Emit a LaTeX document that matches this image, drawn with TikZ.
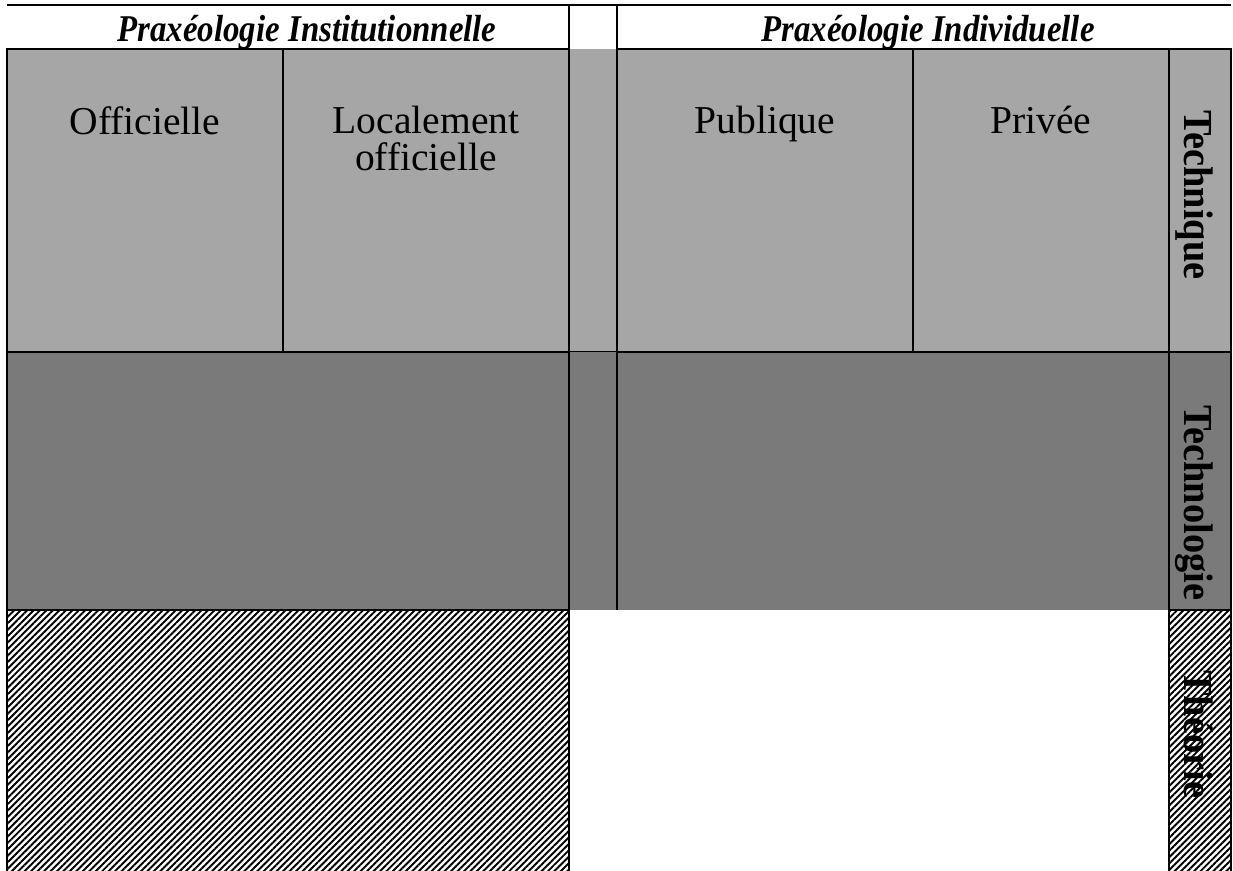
\documentclass[tikz,border=0pt]{standalone}
\usepackage{fontspec}
\setmainfont{Liberation Serif}
\newfontfamily\headfont[FakeStretch=0.87]{Liberation Serif}
\newfontfamily\sidefont[FakeStretch=0.93]{Liberation Serif}
\usetikzlibrary{patterns.meta, positioning}

\begin{document}
\begin{tikzpicture}[x=0.02cm, y=-0.02cm]
% Styles for the cells and the texts
\tikzstyle{technique_cell} = [draw=black, line width=1pt, fill=black!35]
\tikzstyle{technologie_cell} = [draw=black, line width=1pt, fill=black!52]
\tikzstyle{theorie_cell} = [draw=black, line width=1pt, fill=black!25, pattern={Lines[angle=45, distance=2.6pt, line width=1.1pt]}]
\tikzstyle{rule} = [line width=1pt]
\tikzstyle{head_text} = [font=\headfont\fontsize{21.5}{24}\selectfont\bfseries\itshape, anchor=base, inner sep=0pt]
\tikzstyle{cell_text} = [font=\fontsize{22.5}{21}\selectfont, anchor=north, align=center, inner sep=0pt]
\tikzstyle{side_text} = [font=\sidefont\fontsize{23.5}{24}\selectfont\bfseries, rotate=-90, anchor=base west, inner sep=0pt]

\useasboundingbox (0,0) rectangle (1233,870);

% Header
\draw [rule] (7,5) -- (1231,5);
\draw [rule] (569,5) -- (569,49);
\draw [rule] (617,5) -- (617,49);
\node (inst) [head_text] at (307,41) {Praxéologie Institutionnelle};
\node (indiv) [head_text] at (928,41) {Praxéologie Individuelle};

% Row Technique
\fill [black!35] (569,49) rectangle (617,352);
\draw [technique_cell] (7,49) rectangle (283,352);
\draw [technique_cell] (283,49) rectangle (569,352);
\draw [technique_cell] (617,49) rectangle (913,352);
\draw [technique_cell] (913,49) rectangle (1169,352);
\draw [technique_cell] (1169,49) rectangle (1231,352);
\draw [rule] (569,352) -- (617,352);

% Row Technologie
\fill [black!52] (569,352) rectangle (1169,610);
\draw [technologie_cell] (7,352) rectangle (569,610);
\draw [rule] (617,610) -- (617,352) -- (1169,352);
\draw [technologie_cell] (1169,352) rectangle (1231,610);

% Row Theorie
\draw [theorie_cell] (7,610) rectangle (569,872);
\draw [theorie_cell] (1169,610) rectangle (1231,872);

% Texts in the cells
\node (officielle) [cell_text] at (145,106) {Officielle};
\node (localement) [cell_text] at (426,106) {Localement\\officielle};
\node (publique) [cell_text] at (765,106) {Publique};
\node (privee) [cell_text] at (1041,106) {Privée};

\node (technique) [side_text] at (1184,110) {Technique};
\node (technologie) [side_text] at (1184,405) {Technologie};
\node (theorie) [side_text] at (1184,670) {Théorie};
\end{tikzpicture}
\end{document}
